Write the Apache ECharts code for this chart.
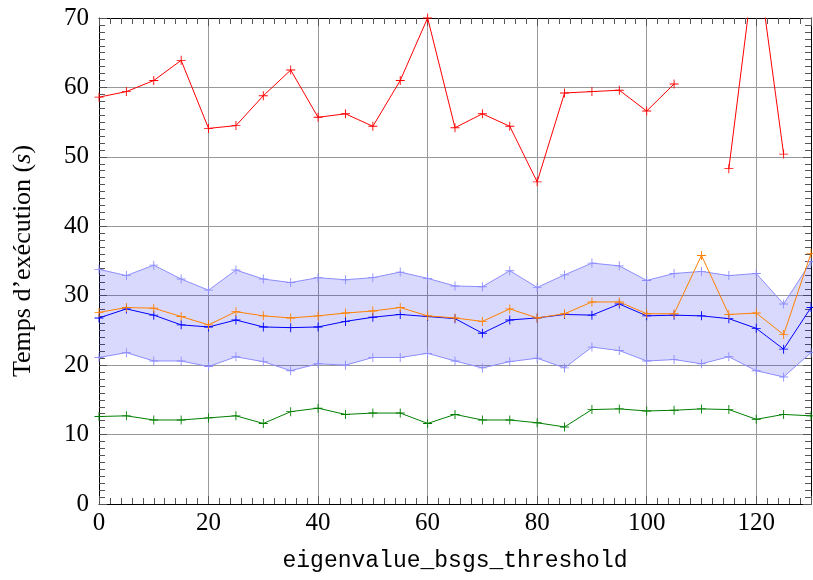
<!DOCTYPE html>
<html>
<head>
<meta charset="utf-8">
<script src="https://cdn.jsdelivr.net/npm/echarts@6/dist/echarts.min.js"></script>
<style>
  html, body { margin: 0; padding: 0; background: #fff; }
  #chart { width: 813px; height: 580px; }
</style>
</head>
<body>
<div id="chart"></div>
<script>
// valeurs
const thresholds = [0, 5, 10, 15, 20, 25, 30, 35, 40, 45, 50, 55, 60, 65, 70, 75, 80, 85, 90, 95, 100, 105, 110, 115, 120, 125, 130];
const redTimes = [58.6, 59.4, 61.0, 63.9, 54.1, 54.5, 58.8, 62.5, 55.7, 56.2, 54.4, 61.0, 70.0, 54.2, 56.2, 54.4, 46.4, 59.2, 59.4, 59.6, 56.6, 60.5, null, 48.3, 79.7, 50.4, null];
const bandUpper = [33.8, 32.9, 34.4, 32.4, 30.8, 33.7, 32.4, 31.9, 32.6, 32.3, 32.6, 33.4, 32.5, 31.4, 31.3, 33.6, 31.2, 33.0, 34.7, 34.3, 32.2, 33.2, 33.5, 32.9, 33.2, 28.8, 34.9];
const bandLower = [21.1, 21.8, 20.6, 20.6, 19.8, 21.2, 20.5, 19.2, 20.2, 20.0, 21.1, 21.1, 21.7, 20.6, 19.6, 20.5, 21.0, 19.6, 22.6, 22.1, 20.6, 20.8, 20.2, 21.2, 19.2, 18.3, 21.8];
const blueTimes = [26.8, 28.1, 27.2, 25.8, 25.5, 26.5, 25.5, 25.4, 25.5, 26.3, 26.9, 27.3, 27.0, 26.7, 24.6, 26.5, 26.8, 27.3, 27.2, 28.8, 27.1, 27.2, 27.1, 26.7, 25.3, 22.3, 28.3];
const orangeTimes = [27.6, 28.3, 28.2, 27.0, 25.8, 27.7, 27.1, 26.8, 27.1, 27.5, 27.8, 28.3, 27.1, 26.8, 26.3, 28.1, 26.8, 27.4, 29.1, 29.1, 27.4, 27.4, 35.8, 27.3, 27.5, 24.4, 36.1];
const greenTimes = [12.6, 12.7, 12.1, 12.1, 12.4, 12.7, 11.6, 13.3, 13.8, 12.9, 13.1, 13.1, 11.6, 12.9, 12.1, 12.1, 11.7, 11.1, 13.6, 13.7, 13.4, 13.5, 13.7, 13.6, 12.2, 12.9, 12.7];

const plus = 'path://M-0.1,-1H0.1V-0.1H1V0.1H0.1V1H-0.1V0.1H-1V-0.1H-0.1Z';
const serif = '"Liberation Serif", "DejaVu Serif", serif';

function pairs(values) {
  return thresholds.map((x, i) => [x, values[i]]);
}

function lineSeries(name, values, color, extra) {
  return Object.assign({
    name: name,
    type: 'line',
    data: pairs(values),
    symbol: plus,
    symbolSize: 9,
    showSymbol: true,
    connectNulls: false,
    lineStyle: { color: color, width: 1 },
    itemStyle: { color: color, borderWidth: 0 },
    emphasis: { disabled: true },
  }, extra || {});
}

// axes en miroir (haut / droite) : seulement les graduations
function mirrorAxis(position, max, interval) {
  return {
    type: 'value',
    position: position,
    min: 0,
    max: max,
    interval: interval,
    axisLine: { show: true, onZero: false, lineStyle: { color: '#000', width: 1 } },
    axisTick: { show: true, inside: true, length: 8, lineStyle: { color: '#555' } },
    minorTick: { show: true, splitNumber: 10, length: 6, lineStyle: { color: '#555' } },
    axisLabel: { show: false },
    splitLine: { show: false },
  };
}

const chart = echarts.init(document.getElementById('chart'));

const option = {
  animation: false,
  grid: { left: 99, right: 2, top: 18, bottom: 76 },
  xAxis: [
    {
      type: 'value',
      min: 0,
      max: 130,
      interval: 20,
      name: 'eigenvalue_bsgs_threshold',
      nameLocation: 'middle',
      nameGap: 45,
      nameTextStyle: { fontFamily: '"Liberation Mono", "DejaVu Sans Mono", monospace', fontSize: 23, color: '#000' },
      axisLine: { show: true, onZero: false, lineStyle: { color: '#000', width: 1 } },
      axisTick: { show: true, inside: true, length: 8, lineStyle: { color: '#555' } },
      minorTick: { show: true, splitNumber: 10, length: 6, lineStyle: { color: '#555' } },
      axisLabel: { fontFamily: serif, fontSize: 25, color: '#000', margin: 7, showMaxLabel: false },
      splitLine: { show: true, lineStyle: { color: '#999', width: 1 } },
    },
    mirrorAxis('top', 130, 20),
  ],
  yAxis: [
    {
      type: 'value',
      min: 0,
      max: 70,
      interval: 10,
      name: 'Temps d’exécution ({i|s})',
      nameLocation: 'middle',
      nameRotate: 90,
      nameGap: 63,
      nameTextStyle: {
        fontFamily: serif,
        fontSize: 26,
        color: '#000',
        rich: { i: { fontFamily: serif, fontSize: 26, fontStyle: 'italic', color: '#000' } },
      },
      axisLine: { show: true, onZero: false, lineStyle: { color: '#000', width: 1 } },
      axisTick: { show: true, inside: true, length: 8, lineStyle: { color: '#555' } },
      minorTick: { show: true, splitNumber: 10, length: 6, lineStyle: { color: '#555' } },
      axisLabel: { fontFamily: serif, fontSize: 25, color: '#000', margin: 10 },
      splitLine: { show: true, lineStyle: { color: '#999', width: 1 } },
    },
    mirrorAxis('right', 70, 10),
  ],
  series: [
    {
      name: 'bande',
      type: 'custom',
      clip: true,
      z: 1,
      data: [0],
      renderItem: function (params, api) {
        const top = thresholds.map((x, i) => api.coord([x, bandUpper[i]]));
        const bottom = thresholds.map((x, i) => api.coord([x, bandLower[i]])).reverse();
        return {
          type: 'polygon',
          shape: { points: top.concat(bottom) },
          style: { fill: 'rgba(0, 0, 240, 0.15)' },
        };
      },
    },
    lineSeries('bande basse', bandLower, '#8c8cff', { z: 2 }),
    lineSeries('bande haute', bandUpper, '#8c8cff', { z: 2 }),
    lineSeries('vert', greenTimes, '#007f00', { z: 3 }),
    lineSeries('bleu', blueTimes, '#0000ff', { z: 4 }),
    lineSeries('orange', orangeTimes, '#ff8000', { z: 5 }),
    lineSeries('rouge', redTimes, '#ff0000', { z: 6 }),
  ],
};

chart.setOption(option);
</script>
</body>
</html>
